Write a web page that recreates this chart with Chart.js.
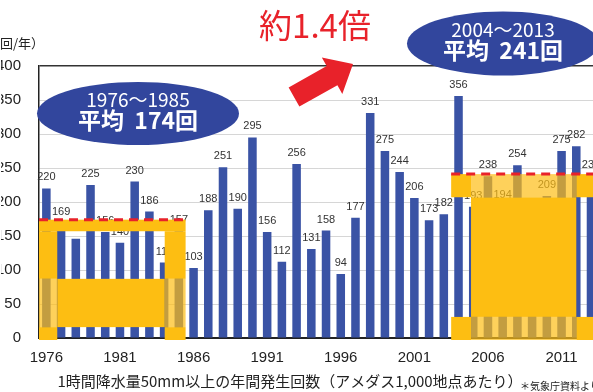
<!DOCTYPE html>
<html><head><meta charset="utf-8">
<script src="https://cdn.jsdelivr.net/npm/chart.js@4.4.0/dist/chart.umd.min.js"></script>
<style>
html,body{margin:0;padding:0;background:#fff;overflow:hidden;width:593px;height:392px;}
#wrap{position:absolute;left:0;top:0;width:602px;height:392px;}
canvas{display:block;}
</style></head><body>
<div id="wrap"><canvas id="c" width="602" height="392"></canvas></div>
<script>
const years = ['1976','1977','1978','1979','1980','1981','1982','1983','1984','1985',
  '1986','1987','1988','1989','1990','1991','1992','1993','1994','1995',
  '1996','1997','1998','1999','2000','2001','2002','2003','2004','2005',
  '2006','2007','2008','2009','2010','2011','2012','2013'];
const counts = [220,169,146,225,156,140,230,186,111,157,
  103,188,251,190,295,156,112,256,131,158,
  94,177,331,275,244,206,173,182,356,193,
  238,194,254,171,209,275,282,238];
const tickYears = ['1976','1981','1986','1991','1996','2001','2006','2011'];
const yTicks = [0,50,100,150,200,250,300,350,400];
const periodLabels = ['1976～1985','2004～2013'];
const periodAverages = [174, 241];
const ratioText = '約1.4倍';
const unitText = '（回/年）';
const xTitle = '1時間降水量50mm以上の年間発生回数（アメダス1,000地点あたり）';
const sourceText = '＊気象庁資料より';

const BLUE = '#3A53A5';
const ELL = '#32469D';
const ORANGE = '#FDBE12';
const ORANGE_T = 'rgba(253,190,22,0.70)';
const RED = '#E8222A';
const JP = '"Noto Sans CJK JP","Noto Sans",sans-serif';
const NUM = '"Liberation Sans",Arial,sans-serif';

const overlay = {
  id:'overlay',
  afterDatasetsDraw(chart){
    const ctx = chart.ctx, xs = chart.scales.x, ys = chart.scales.y;
    const meta = chart.getDatasetMeta(0);
    ctx.save();
    ctx.fillStyle = '#333';
    ctx.font = '11px ' + NUM;
    ctx.textAlign = 'center';
    ctx.textBaseline = 'middle';
    meta.data.forEach((bar,i)=>{
      ctx.fillText(String(counts[i]), bar.x, bar.y - 11);
    });
    ctx.restore();

    const X = i => xs.getPixelForValue(i);
    const Y = v => ys.getPixelForValue(v);
    const rect = (i0,i1,v0,v1,col,ext) => {
      ctx.fillStyle = col;
      const x0 = X(i0), x1 = X(i1), y0 = Y(v1), y1 = Y(v0) + (ext||0);
      ctx.fillRect(x0, y0, x1-x0, y1-y0);
    };
    ctx.save();
    // left frame (1976-1985)
    rect(-0.5, 9.46, 157, periodAverages[0], ORANGE);
    rect(-0.5, 0.74, 87, 157, ORANGE);
    rect(-0.5, 0.74, 16, 87, ORANGE_T);
    rect(-0.5, 0.74, 0, 16, ORANGE, 2);
    rect(8.04, 9.46, 87, 157, ORANGE);
    rect(8.04, 9.46, 16, 87, ORANGE_T);
    rect(8.04, 9.46, 0, 16, ORANGE, 2);
    rect(0.74, 8.04, 16, 87, ORANGE);
    // right frame (2004-2013)
    rect(27.5, 28.85, 207, periodAverages[1], ORANGE);
    rect(28.85, 36.0, 207, periodAverages[1], ORANGE_T);
    rect(36.0, 39.5, 207, periodAverages[1], ORANGE);
    rect(28.85, 36.0, 31, 207, ORANGE);
    rect(27.5, 28.85, 0, 31, ORANGE, 2);
    rect(28.85, 36.0, 0, 31, ORANGE_T, 2);
    rect(36.0, 39.5, 0, 31, ORANGE, 2);
    // red dashed average lines
    ctx.strokeStyle = RED;
    ctx.lineWidth = 3;
    ctx.setLineDash([9,6]);
    ctx.beginPath();
    ctx.moveTo(X(-0.5), Y(periodAverages[0]));
    ctx.lineTo(X(9.46), Y(periodAverages[0]));
    ctx.moveTo(X(27.5), Y(periodAverages[1]));
    ctx.lineTo(X(39.5), Y(periodAverages[1]));
    ctx.stroke();
    ctx.restore();
  },
  afterDraw(chart){
    const ctx = chart.ctx;
    ctx.save();
    const ell = (cx,cy,rx,ry,l1,l2) => {
      ctx.fillStyle = ELL;
      ctx.beginPath();
      ctx.ellipse(cx,cy,rx,ry,0,0,Math.PI*2);
      ctx.fill();
      ctx.fillStyle = '#fff';
      ctx.textAlign = 'center';
      ctx.textBaseline = 'middle';
      ctx.font = '19px ' + JP;
      ctx.fillText(l1, cx, cy - 14);
      ctx.font = 'bold 23px ' + JP;
      ctx.fillText(l2, cx, cy + 7);
    };
    ell(138,113.5,101,31.5, periodLabels[0], '平均  ' + periodAverages[0] + '回');
    ell(503,43.5,96,32, periodLabels[1], '平均  ' + periodAverages[1] + '回');
    // arrow
    const T = [294,97], P = [353,64];
    const dx = P[0]-T[0], dy = P[1]-T[1], L = Math.hypot(dx,dy);
    const ux = dx/L, uy = dy/L, px = -uy, py = ux;
    const sw = 11, hw = 21, hl = 24;
    const B = [P[0]-ux*hl, P[1]-uy*hl];
    ctx.fillStyle = RED;
    ctx.beginPath();
    ctx.moveTo(T[0]+px*sw, T[1]+py*sw);
    ctx.lineTo(B[0]+px*sw, B[1]+py*sw);
    ctx.lineTo(B[0]+px*hw, B[1]+py*hw);
    ctx.lineTo(P[0], P[1]);
    ctx.lineTo(B[0]-px*hw, B[1]-py*hw);
    ctx.lineTo(B[0]-px*sw, B[1]-py*sw);
    ctx.lineTo(T[0]-px*sw, T[1]-py*sw);
    ctx.closePath();
    ctx.fill();
    // title
    ctx.fillStyle = RED;
    ctx.font = '33px ' + JP;
    ctx.textAlign = 'center';
    ctx.textBaseline = 'middle';
    ctx.fillText(ratioText, 315, 25);
    // unit
    ctx.fillStyle = '#222';
    ctx.font = '13px ' + JP;
    ctx.textAlign = 'left';
    ctx.fillText(unitText, -13, 43);
    // x title
    ctx.font = '15px ' + JP;
    ctx.textAlign = 'center';
    ctx.fillText(xTitle, 290, 381);
    // source
    ctx.font = '10px ' + JP;
    ctx.textAlign = 'left';
    ctx.fillText(sourceText, 520, 386);
    ctx.restore();
  }
};

new Chart(document.getElementById('c').getContext('2d'), {
  type:'bar',
  data:{labels:years, datasets:[{data:counts, backgroundColor:BLUE, barPercentage:0.58, categoryPercentage:1}]},
  options:{
    responsive:false, animation:false, devicePixelRatio:1,
    layout:{padding:{left:1, top:66, right:0, bottom:0}},
    plugins:{legend:{display:false}, tooltip:{enabled:false}},
    scales:{
      x:{
        grid:{display:false, drawTicks:false},
        border:{display:true, color:'#222', width:2},
        ticks:{autoSkip:false, maxRotation:0, minRotation:0, padding:11, color:'#222',
          font:{size:15, family:NUM},
          callback:(v,i)=> tickYears.includes(years[i]) ? years[i] : ''},
        afterFit:s=>{s.height=54;}
      },
      y:{
        min:0, max:400,
        afterBuildTicks:s=>{s.ticks = yTicks.map(v=>({value:v}));},
        ticks:{padding:18, color:'#222', font:{size:15, family:NUM}},
        grid:{drawTicks:false,
          color:c=> c.tick.value===400 ? '#333' : (c.tick.value===0 ? 'rgba(0,0,0,0)' : '#d6d6d6'),
          lineWidth:c=> c.tick.value===400 ? 1.5 : 1},
        border:{display:true, color:'#222', width:1.5},
        afterFit:s=>{s.width=38;}
      }
    }
  },
  plugins:[overlay]
});
</script>
</body></html>
